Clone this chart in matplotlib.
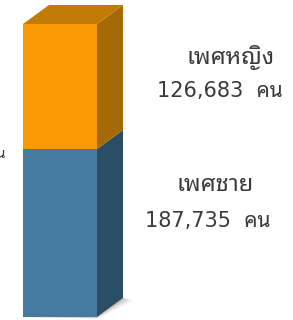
import matplotlib
matplotlib.use("Agg")
import matplotlib.pyplot as plt
from matplotlib.patches import Polygon

plt.rcParams['font.family'] = ['Noto Sans Thai Looped', 'IBM Plex Sans Thai Looped', 'DejaVu Sans']

# data
groups = ['เพศชาย', 'เพศหญิง']
values = [187735, 126683]
front_colors = ['#447b9e', '#f99a05']
side_colors = ['#2c4e64', '#a36a05']
top_color = '#c27b05'

fig = plt.figure(figsize=(2.93, 3.20), dpi=100)
ax = fig.add_axes([0, 3 / 320, 1, 317 / 320])
ax.set_xlim(-0.311, 3.649)
ax.set_ylim(17467, 338747)
ax.axis('off')

# pixel -> data scale for the 3d depth
px_x = (3.649 + 0.311) / 293
px_y = (338747 - 17467) / 317
dx, dy = 26 * px_x, 19 * px_y
y0 = ax.get_ylim()[0]

# soft shadow
for k, a in [(7, 0.04), (5, 0.06), (3, 0.09), (1, 0.12)]:
    ax.add_patch(Polygon([(0 - k * px_x * 1.2, y0), (1, y0 - k * px_y * 0.3),
                          (1 + dx + k * px_x * 1.6, y0 + dy - k * px_y * 0.4),
                          (1 + dx, y0 + dy), (1, y0)],
                         closed=True, color='black', alpha=a, lw=0, clip_on=False))

bottom = 0
for name, v, fc, sc in zip(groups, values, front_colors, side_colors):
    ax.bar(0.5, v, width=1, bottom=bottom, color=fc, lw=0)
    lo = max(bottom, y0)
    hi = bottom + v
    ax.add_patch(Polygon([(1, lo), (1 + dx, lo + dy), (1 + dx, hi + dy), (1, hi)],
                         closed=True, color=sc, lw=0))
    bottom = hi

# top face
ax.add_patch(Polygon([(0, bottom), (dx, bottom + dy), (1 + dx, bottom + dy), (1, bottom)],
                     closed=True, color=top_color, lw=0, clip_on=False))

txt = '#3a3a3a'
num_font = ['DejaVu Sans', 'Noto Sans Thai Looped']
fig.text(231 / 293, 1 - 57 / 320, groups[1], ha='center', va='center', fontsize=17, color=txt)
fig.text(220 / 293, 1 - 91 / 320, f'{values[1]:,}  คน', ha='center', va='center',
         fontsize=15, color=txt, family=num_font)
fig.text(215 / 293, 1 - 185 / 320, groups[0], ha='center', va='center', fontsize=17, color=txt)
fig.text(208 / 293, 1 - 221 / 320, f'{values[0]:,}  คน', ha='center', va='center',
         fontsize=15, color=txt, family=num_font)
fig.text(6 / 293, 1 - 155 / 320, 'จำนวน', ha='right', va='center', fontsize=10, color=txt)

fig.savefig('out.png', dpi=100)
